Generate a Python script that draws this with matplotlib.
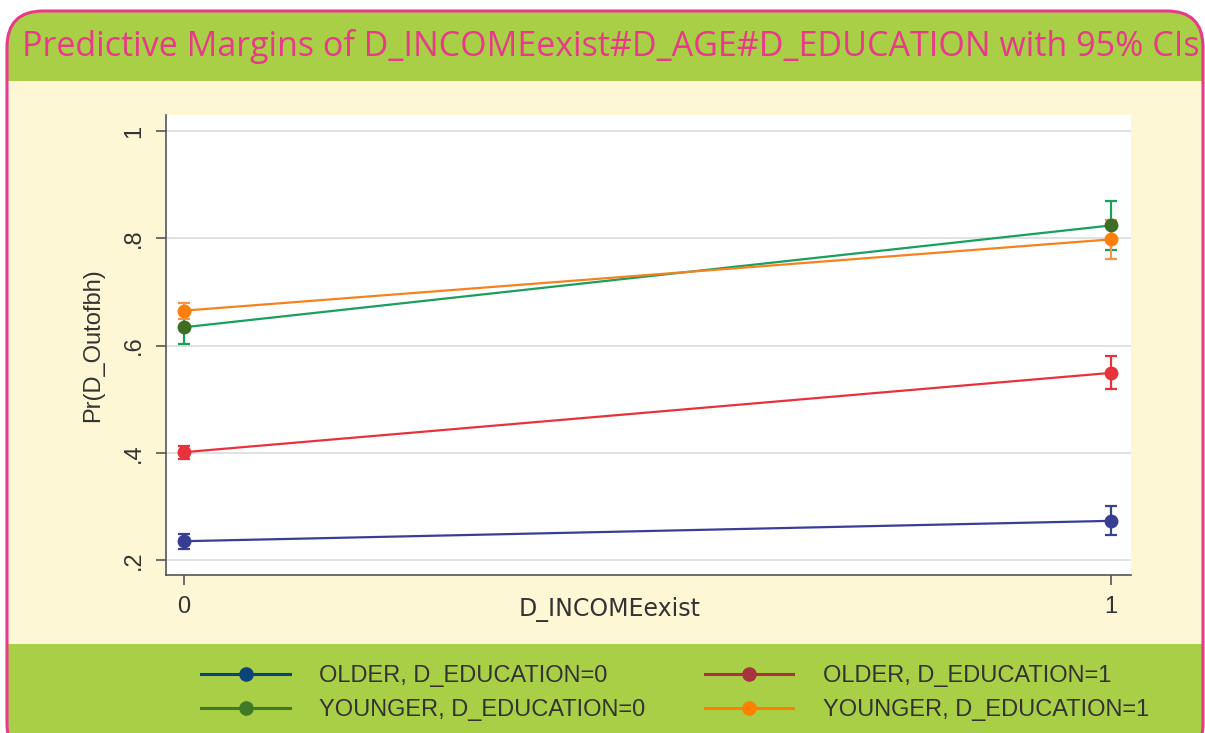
import matplotlib
matplotlib.use("Agg")
import matplotlib.pyplot as plt
from matplotlib.patches import FancyBboxPatch, Rectangle
from matplotlib.lines import Line2D

# ---------------- data ----------------
x_levels = [0, 1]
x_ticklabels = ["0", "1"]
y_ticks = [0.2, 0.4, 0.6, 0.8, 1.0]
y_ticklabels = [".2", ".4", ".6", ".8", "1"]

series_names = ["OLDER, D_EDUCATION=0", "OLDER, D_EDUCATION=1",
                "YOUNGER, D_EDUCATION=0", "YOUNGER, D_EDUCATION=1"]
older_edu0 = [0.235, 0.273]
older_edu0_lo = [0.221, 0.246]
older_edu0_hi = [0.249, 0.300]
older_edu1 = [0.401, 0.549]
older_edu1_lo = [0.389, 0.518]
older_edu1_hi = [0.413, 0.581]
younger_edu0 = [0.634, 0.824]
younger_edu0_lo = [0.602, 0.778]
younger_edu0_hi = [0.666, 0.870]
younger_edu1 = [0.665, 0.798]
younger_edu1_lo = [0.650, 0.761]
younger_edu1_hi = [0.679, 0.835]

title = "Predictive Margins of D_INCOMEexist#D_AGE#D_EDUCATION with 95% CIs"
xlabel = "D_INCOMEexist"
ylabel = "Pr(D_Outofbh)"

# ---------------- styles ----------------
W, H = 1205, 733
line_cols = ["#3a3f96", "#e8323b", "#18a05c", "#f5821f"]
marker_cols = ["#373d92", "#e8323b", "#3d6e24", "#ff7f0e"]
ci_cols = ["#3a3f96", "#e8323b", "#18a05c", "#f7934a"]
legend_cols = ["#0c4379", "#a83340", "#3f7a26", "#ff7f00"]
GREEN = "#a8cf45"
CREAM = "#fef7d6"
PINK = "#e8398b"
TXT = "#333333"

plt.rcParams["font.family"] = ["Liberation Sans", "DejaVu Sans"]

fig = plt.figure(figsize=(W / 100, H / 100), dpi=100)
fig.patch.set_facecolor("white")


def fx(px):
    return px / W


def fy(py):
    return 1 - py / H


# background frame
frame = FancyBboxPatch((fx(7), fy(760)), fx(1196), fy(11) - fy(760),
                       boxstyle="round,pad=0,rounding_size=0.03",
                       transform=fig.transFigure, facecolor=GREEN,
                       edgecolor="none", zorder=-3, mutation_aspect=W / H)
fig.patches.append(frame)
fig.patches.append(Rectangle((fx(7), fy(644)), fx(1196), fy(81) - fy(644),
                             transform=fig.transFigure, facecolor=CREAM,
                             edgecolor="none", zorder=-2))
border = FancyBboxPatch((fx(7), fy(760)), fx(1196), fy(11) - fy(760),
                        boxstyle="round,pad=0,rounding_size=0.03",
                        transform=fig.transFigure, facecolor="none",
                        edgecolor=PINK, linewidth=2.2, zorder=-1,
                        mutation_aspect=W / H)
fig.patches.append(border)

fig.text(fx(22), fy(47), title, color=PINK, fontsize=24.5,
         family=["Open Sans", "DejaVu Sans"], va="center", ha="left")

# ---------------- axes ----------------
ax = fig.add_axes([fx(166), fy(575), fx(1131) - fx(166), fy(115) - fy(575)])
ax.set_zorder(5)
ax.set_facecolor("white")
ax.set_xlim(-0.0189, 1.0216)
ax.set_ylim(0.172, 1.030)

series = [
    (older_edu0, older_edu0_lo, older_edu0_hi),
    (older_edu1, older_edu1_lo, older_edu1_hi),
    (younger_edu0, younger_edu0_lo, younger_edu0_hi),
    (younger_edu1, younger_edu1_lo, younger_edu1_hi),
]
for i, (m, lo, hi) in enumerate(series):
    ax.plot(x_levels, m, color=line_cols[i], lw=1.6, zorder=3)
    yerr = [[m[j] - lo[j] for j in range(2)], [hi[j] - m[j] for j in range(2)]]
    ax.errorbar(x_levels, m, yerr=yerr, fmt="none", ecolor=ci_cols[i],
                elinewidth=1.6, capsize=4.5, capthick=1.6, zorder=3)
    ax.plot(x_levels, m, "o", color=marker_cols[i], ms=10, mec="none", zorder=4)

ax.set_yticks(y_ticks)
ax.set_yticklabels(y_ticklabels, rotation=90, va="center")
ax.set_xticks(x_levels)
ax.set_xticklabels(x_ticklabels)
ax.grid(axis="y", color="#dcdcdc", lw=1.2)
ax.set_axisbelow(True)
for s in ["top", "right"]:
    ax.spines[s].set_visible(False)
for s in ["left", "bottom"]:
    ax.spines[s].set_color("#555555")
    ax.spines[s].set_linewidth(1.2)
ax.tick_params(axis="both", colors="#555555", labelcolor=TXT, labelsize=17,
               length=7, width=1.2)
ax.tick_params(axis="y", pad=8)
ax.tick_params(axis="x", pad=8)
ax.set_xlabel(xlabel, fontsize=17, color=TXT, va="center",
              family=["DejaVu Sans"])
ax.xaxis.set_label_coords((610 - 166) / 965, -(609 - 575) / 460)
ax.set_ylabel(ylabel, fontsize=17, color=TXT, labelpad=14)

# ---------------- legend ----------------
handles = []
order = [0, 2, 1, 3]
for i in order:
    handles.append(Line2D([0], [0], color=legend_cols[i], lw=2.2, marker="o",
                          ms=10.5, mfc=legend_cols[i], mec="none"))
fig.legend(handles, [series_names[i] for i in order], ncol=2,
           loc="center left", bbox_to_anchor=(fx(180), fy(693)),
           frameon=False, fontsize=17, handlelength=3.75, handletextpad=1.25,
           columnspacing=2.5, labelspacing=0.52, labelcolor=TXT)

fig.savefig("out.png", dpi=100)
